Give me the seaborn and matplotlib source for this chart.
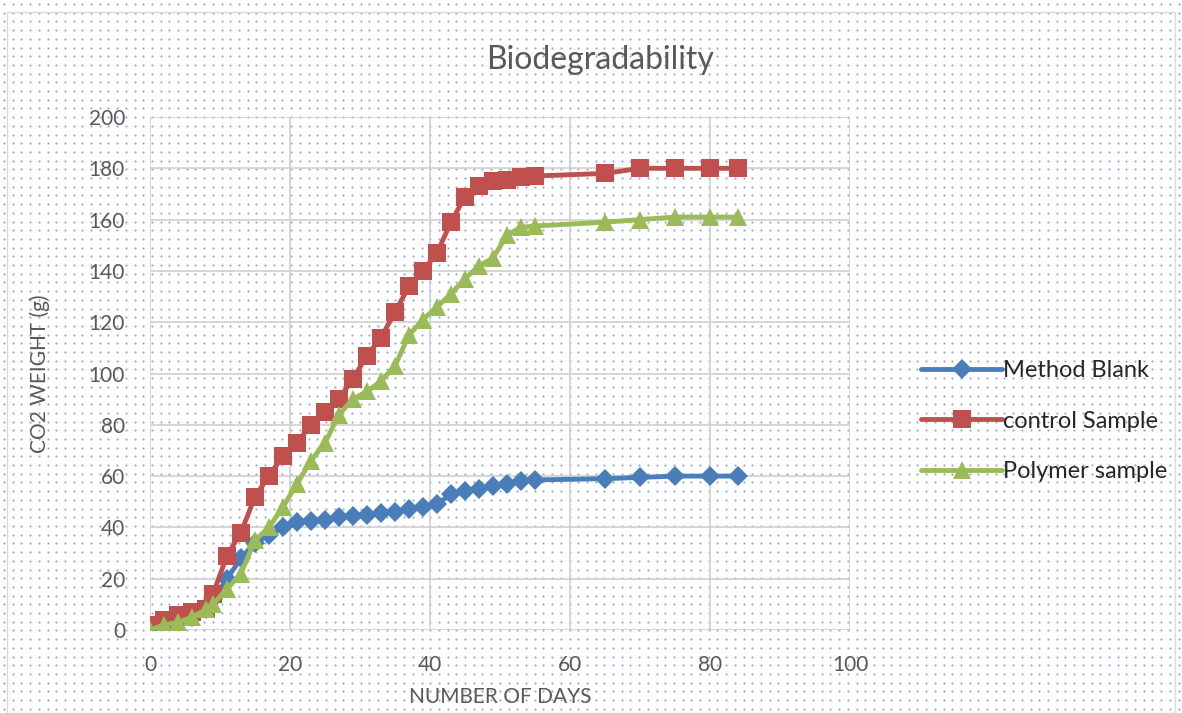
import numpy as np
import pandas as pd
import matplotlib
matplotlib.use("Agg")
import matplotlib.pyplot as plt
import seaborn as sns

# days of measurement (shared by all three series)
days = [0, 2, 4, 6, 8, 9, 11, 13, 15, 17, 19, 21, 23, 25, 27, 29, 31, 33, 35,
        37, 39, 41, 43, 45, 47, 49, 51, 53, 55, 65, 70, 75, 80, 84]

method_blank = [1, 2, 3, 5, 8, 12, 20, 28, 34, 37, 40, 42, 42.5, 43, 44, 44.5,
                45, 45.5, 46, 47, 48, 49, 53, 54, 55, 56, 57, 58, 58.5,
                59, 59.5, 60, 60, 60]
control_sample = [2, 4, 6, 7, 8, 14, 29, 38, 52, 60, 68, 73, 80, 85, 90, 98,
                  107, 114, 124, 134, 140, 147, 159, 169, 173, 175, 175.5,
                  176.5, 177, 178, 180, 180, 180, 180]
polymer_sample = [0, 2, 3, 5, 8, 10, 16, 22, 35, 40, 48, 57, 66, 73, 84, 90,
                  93, 97, 103, 115, 121, 126, 131, 137, 142, 145, 154, 157,
                  157.5, 159, 160, 161, 161, 161]

series_names = ["Method Blank", "control Sample", "Polymer sample"]
colors = ["#4A7EBB", "#C0504D", "#9BBB59"]
markers = ["D", "s", "^"]
marker_sizes = [10.5, 12.5, 12.5]

df = pd.DataFrame({"day": days, "Method Blank": method_blank,
                   "control Sample": control_sample,
                   "Polymer sample": polymer_sample})
long_df = df.melt(id_vars="day", var_name="series", value_name="co2")

sns.set_style("white")
plt.rcParams["font.family"] = ["Lato", "DejaVu Sans"]

fig = plt.figure(figsize=(11.82, 7.13), dpi=100)
fig.patch.set_facecolor("white")

# dotted backdrop like the office chart style
gx, gy = np.meshgrid(np.arange(4, 1182, 8.7), np.arange(4, 713, 8.7))
fig.add_artist(plt.Line2D(gx.ravel() / 1182, 1 - gy.ravel() / 713, ls="none",
                          marker="o", ms=1.6, mec="none", mfc="#7F98C6",
                          alpha=0.8, transform=fig.transFigure, zorder=0))
fig.add_artist(plt.Rectangle((7 / 1182, 0), 1 - 14 / 1182, 1 - 12 / 713,
                             fill=False, ec="#D9D9D9", lw=1,
                             transform=fig.transFigure, zorder=0))

ax = fig.add_axes([150 / 1182, 1 - 630 / 713, 700 / 1182, 513 / 713])
ax.set_facecolor("none")

for name, col, mk, ms in zip(series_names, colors, markers, marker_sizes):
    sub = long_df[long_df["series"] == name]
    sns.lineplot(data=sub, x="day", y="co2", ax=ax, color=col, marker=mk,
                 markersize=ms, markeredgewidth=0, linewidth=3.5,
                 label=name, zorder=3)

ax.set_xlim(0, 100)
ax.set_ylim(0, 200)
ax.set_xticks(range(0, 101, 20))
ax.set_yticks(range(0, 201, 20))
ax.grid(True, color="#D0D0D0", lw=1.2)
for s in ax.spines.values():
    s.set_visible(False)
ax.tick_params(axis="y", length=0, labelsize=15, labelcolor="#595959", pad=18)
ax.tick_params(axis="x", length=0, labelsize=15, labelcolor="#595959", pad=18)

fig.text(600 / 1182, 1 - 60 / 713, "Biodegradability", fontsize=23,
         color="#595959", ha="center", va="center")
ax.set_xlabel("")
fig.text(500 / 1182, 1 - 697 / 713, "NUMBER OF DAYS", fontsize=15,
         color="#595959", ha="center", va="center")
ax.set_ylabel("CO2 WEIGHT (g)", fontsize=15, color="#595959", labelpad=28)

ax.legend(loc="center left", bbox_to_anchor=(912 / 1182, 1 - 421 / 713),
          bbox_transform=fig.transFigure, frameon=False, fontsize=17,
          handlelength=3.4, handletextpad=0.05, labelspacing=1.25,
          borderaxespad=0)

fig.savefig("out.png", dpi=100)
